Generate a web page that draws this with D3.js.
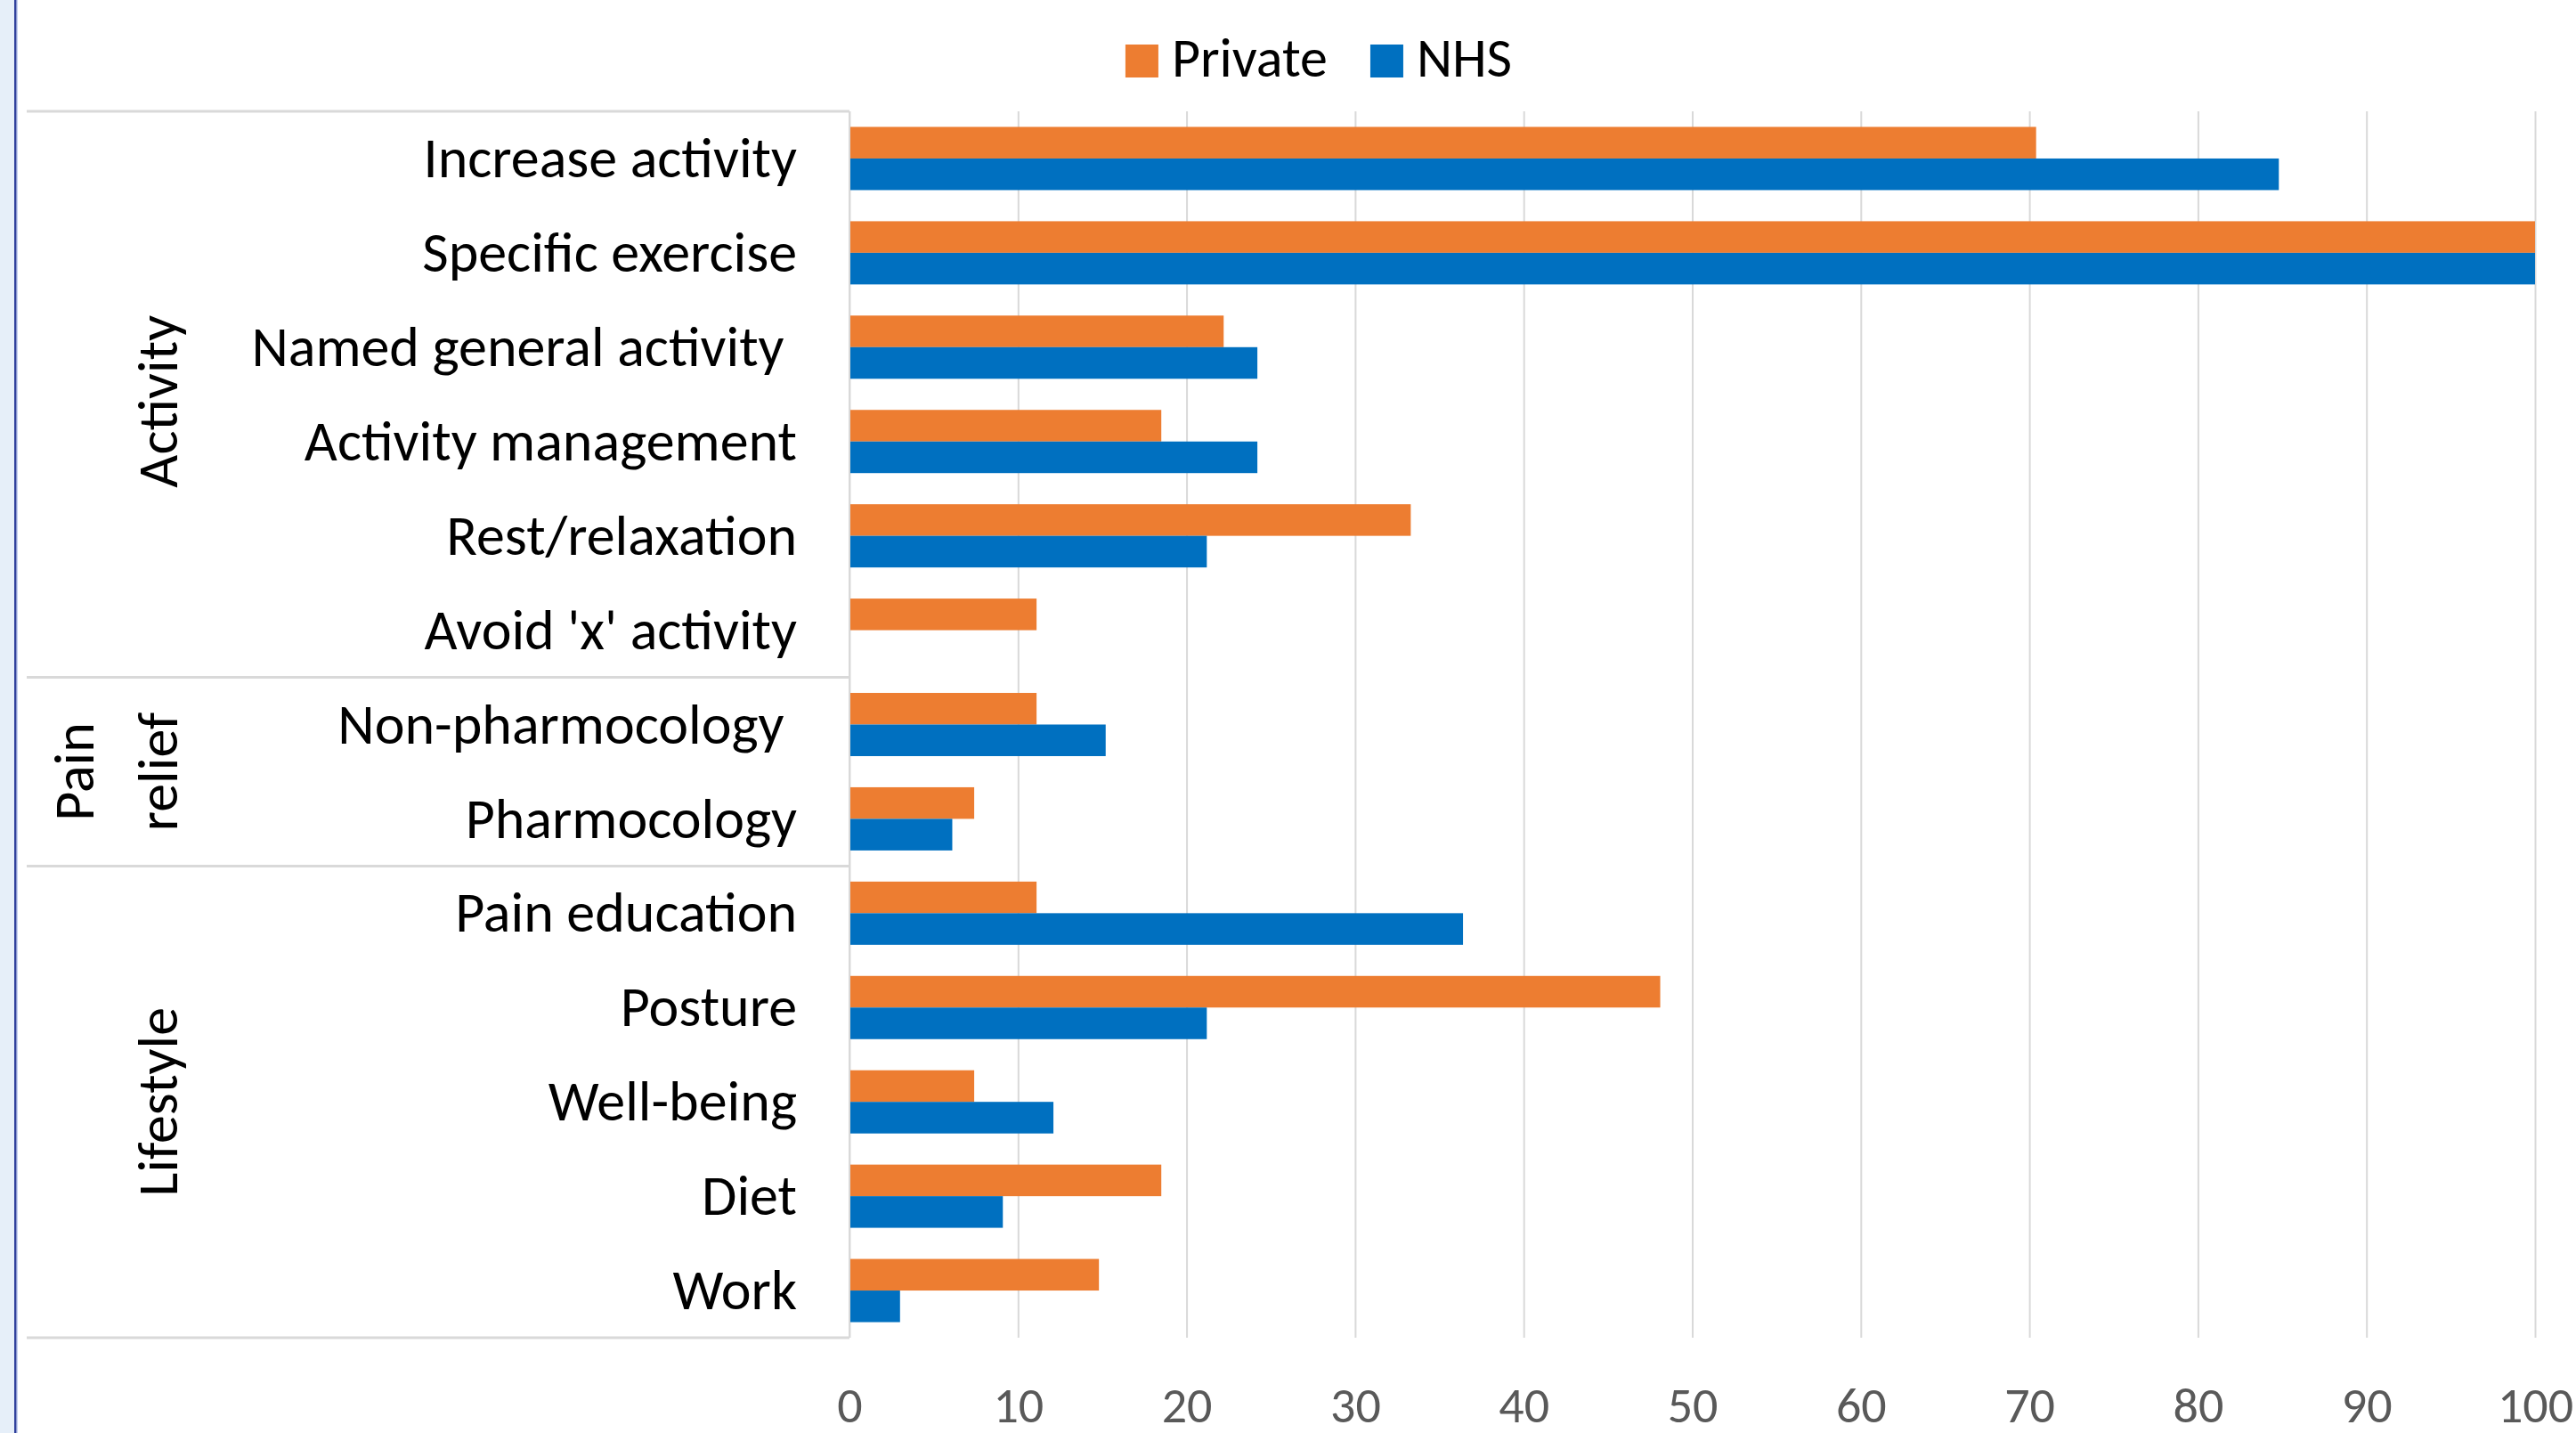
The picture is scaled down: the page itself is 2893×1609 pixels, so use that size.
<!DOCTYPE html>
<html>
<head>
<meta charset="utf-8">
<script src="https://cdn.jsdelivr.net/npm/d3@7"></script>
<style>
  body { margin: 0; background: #fff; }
  text { font-family: Carlito, Lato, "Open Sans", sans-serif; white-space: pre; }
</style>
</head>
<body>
<div id="chart"></div>
<script>
let width  = 2893,
    height = 1609;

let categories = [
  "Increase activity", "Specific exercise", "Named general activity ",
  "Activity management", "Rest/relaxation", "Avoid 'x' activity",
  "Non-pharmocology ", "Pharmocology",
  "Pain education", "Posture", "Well-being", "Diet", "Work"
];
let seriesNames   = ["Private", "NHS"];
let privateValues = [70.4, 100, 22.2, 18.5, 33.3, 11.1, 11.1, 7.4, 11.1, 48.1, 7.4, 18.5, 14.8];
let nhsValues     = [84.8, 100, 24.2, 24.2, 21.2, 0, 15.2, 6.1, 36.4, 21.2, 12.1, 9.1, 3.0];
let groupLabels   = [["Activity"], ["Pain", "relief"], ["Lifestyle"]];
let groupSizes    = [6, 2, 5];
let xTicks        = [0, 10, 20, 30, 40, 50, 60, 70, 80, 90, 100];

let colors = { Private: "#ED7D31", NHS: "#0070C0" };

let plot = { left: 954, right: 2847, top: 125, bottom: 1502 };

let svg =
  d3.select("#chart")
    .append("svg")
      .attr("width", width)
      .attr("height", height);

// window edge on the left
svg.append("rect")
    .attr("x", 0).attr("y", 0)
    .attr("width", 16).attr("height", height)
    .attr("fill", "#e6eff9");
svg.append("line")
    .attr("x1", 17.3).attr("x2", 17.3)
    .attr("y1", 0).attr("y2", height)
    .attr("stroke", "#2f3f9c")
    .attr("stroke-width", 2.6);
svg.append("line")
    .attr("x1", 19.3).attr("x2", 19.3)
    .attr("y1", 0).attr("y2", height)
    .attr("stroke", "#b9c7ee")
    .attr("stroke-width", 1);

let x = d3.scaleLinear()
    .domain([0, 100])
    .range([plot.left, plot.right]);

let y = d3.scaleBand()
    .domain(categories)
    .range([plot.top, plot.bottom])
    .paddingInner(0.33)
    .paddingOuter(0.165);

let ySeries = d3.scaleBand()
    .domain(seriesNames)
    .range([0, y.bandwidth()]);

// gridlines
svg.append("g")
    .attr("transform", translate(0, plot.bottom))
    .call(d3.axisBottom(x).tickValues(xTicks).tickSize(-(plot.bottom - plot.top)).tickFormat(""))
    .call(g => g.select(".domain").remove())
    .call(g => g.selectAll("line").attr("stroke", "#d9d9d9").attr("stroke-width", 2));

// x tick labels
svg.append("g")
    .attr("transform", translate(0, plot.bottom))
    .call(d3.axisBottom(x).tickValues(xTicks).tickSize(0).tickPadding(55))
    .call(g => g.select(".domain").remove())
    .call(g => g.selectAll("text")
        .attr("fill", "#595959")
        .attr("font-size", 56)
        .attr("font-family", null));

// bars
let rows = categories.map(function(c, i) {
  return { category: c, values: [
    { series: "Private", value: privateValues[i] },
    { series: "NHS",     value: nhsValues[i] }
  ]};
});

let row =
  svg.selectAll(".row")
     .data(rows)
     .enter()
    .append("g")
     .attr("class", "row")
     .attr("transform", function(d) { return translate(0, y(d.category)); });

row.selectAll("rect")
   .data(function(d) { return d.values; })
   .enter()
  .append("rect")
   .attr("x", x(0))
   .attr("y", function(d) { return ySeries(d.series); })
   .attr("width", function(d) { return x(d.value) - x(0); })
   .attr("height", ySeries.bandwidth())
   .attr("fill", function(d) { return colors[d.series]; });

// category labels
svg.append("g")
   .selectAll("text")
   .data(categories)
   .enter()
  .append("text")
   .attr("x", 895)
   .attr("y", function(d) { return y(d) + y.bandwidth() / 2; })
   .attr("dy", "0.33em")
   .attr("text-anchor", "end")
   .attr("font-size", 64)
   .attr("fill", "#000")
   .text(function(d) { return d; });

// group frame lines and labels
let half = (y.step() - y.bandwidth()) / 2;
let frameLeft = 30;
let start = 0;
let bounds = [plot.top];
groupSizes.forEach(function(n) {
  start += n;
  bounds.push(y(categories[start - 1]) + y.bandwidth() + half);
});

svg.append("g")
   .selectAll("line")
   .data(bounds)
   .enter()
  .append("line")
   .attr("x1", frameLeft)
   .attr("x2", plot.left)
   .attr("y1", function(d) { return d; })
   .attr("y2", function(d) { return d; })
   .attr("stroke", "#d9d9d9")
   .attr("stroke-width", 3);

svg.append("line")
   .attr("x1", plot.left).attr("x2", plot.left)
   .attr("y1", plot.top).attr("y2", plot.bottom)
   .attr("stroke", "#d9d9d9")
   .attr("stroke-width", 2);

groupLabels.forEach(function(lines, gi) {
  let mid = (bounds[gi] + bounds[gi + 1]) / 2;
  if (gi === 0) mid += 8;
  lines.forEach(function(line, li) {
    let bx = 199 - (lines.length - 1 - li) * 94;
    svg.append("text")
       .attr("transform", translate(bx, mid) + " rotate(-90)")
       .attr("text-anchor", "middle")
       .attr("font-size", 64)
       .attr("fill", "#000")
       .text(line);
  });
});

// legend
let legend = svg.append("g");
let lx = 0;
seriesNames.forEach(function(s) {
  let item = legend.append("g").attr("transform", translate(lx, 0));
  item.append("rect")
      .attr("x", 0).attr("y", 50)
      .attr("width", 37).attr("height", 37)
      .attr("fill", colors[s]);
  let t = item.append("text")
      .attr("x", 52).attr("y", 86)
      .attr("font-size", 62)
      .attr("fill", "#000")
      .text(s);
  lx += 52 + t.node().getComputedTextLength() + 48;
});
let lw = lx - 48;
legend.attr("transform", translate(1481 - lw / 2, 0));

function translate(x, y=0) {
  return "translate({x}, {y})"
          .replace("{x}", x)
          .replace("{y}", y);
}
</script>
</body>
</html>
